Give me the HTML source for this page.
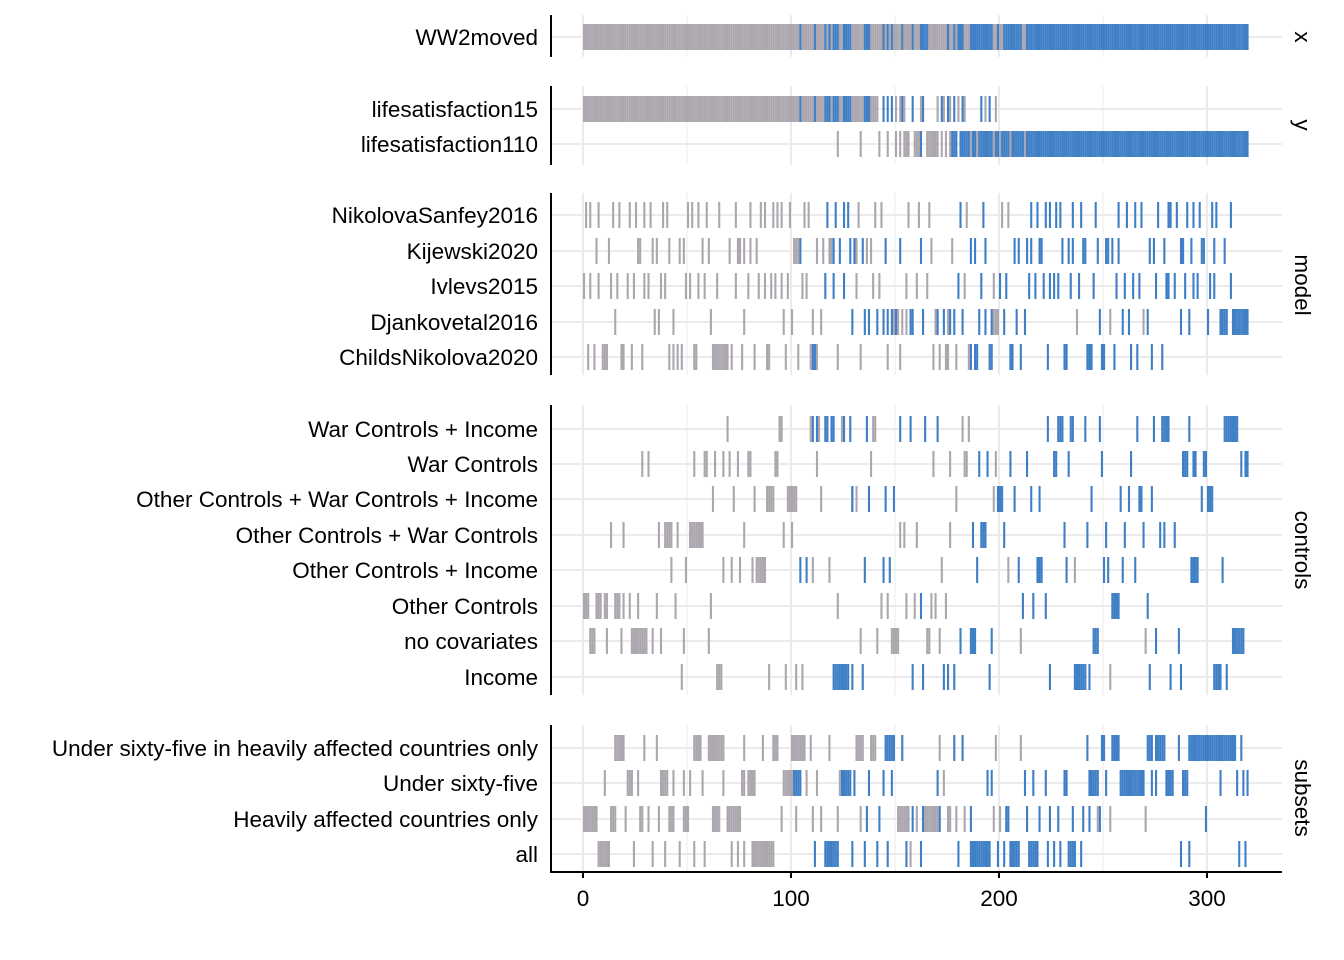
<!DOCTYPE html>
<html><head><meta charset="utf-8"><style>
html,body{margin:0;padding:0;background:#fff;}
svg{display:block;font-family:"Liberation Sans",Arial,sans-serif;}
</style></head><body>
<svg id="chart" width="1344" height="960"></svg>
<script>
const tickValues=[0,100,200,300];
const panelNames=["x","y","model","controls","subsets"];
const rowLabels=["WW2moved","lifesatisfaction15","lifesatisfaction110","NikolovaSanfey2016","Kijewski2020","Ivlevs2015","Djankovetal2016","ChildsNikolova2020","War Controls + Income","War Controls","Other Controls + War Controls + Income","Other Controls + War Controls","Other Controls + Income","Other Controls","no covariates","Income","Under sixty-five in heavily affected countries only","Under sixty-five","Heavily affected countries only","all"];
const rowPanel=[0,1,1,2,2,2,2,2,3,3,3,3,3,3,3,3,4,4,4,4];
const grayRanks=[
"1-104,106-111,113-116,118,120,124,125,130-135,139-144,146,148,150-153,155-158,160-162,167-175,177,178,180,184-186,198,199,201,202,212,213",
"1-104,106-111,113-116,120,124,125,130-135,139-142,151,153,155,163,171,174,177,181,184,194,199",
"123,134,143,147,151,153,155-157,160-162,166-171,173,175,177,187,190,198,201,206,213",
"2,4,8,15,18,23,26,30,33,39,41,51,53,56,60,66,74,81,86,88,92,94,96,100,107,109,133,141,144,157,162,167,185,202,205",
"7,13,27,28,34,36,42,47,49,58,61,71,75,76,78,81,84,102-104,113,116,119,120,132,137,139,168,178",
"1,4,8,14,17,22,25,30,32,38,40,50,52,56,59,65,74,80,85,88,91,93,96,99,106,108,132,140,143,156,161,166,184,198",
"16,35,37,44,62,78,97,101,111,115,150,152,154,156,170,176,198-200,238,254,270",
"3,6,10-12,19,20,24,29,42,44,46,48,54,55,63-70,72,77,83,89,90,98,104,110,113,123,134,147,153,169,172,175,176,180,186",
"70,95,96,110,114,125,140,141,183,186",
"29,32,54,59,60,64,68,71,75,80,81,93,94,113,139,169,177,184,185,199",
"63,73,83,89-92,99-103,115,130,132,180,198",
"14,20,37,40-43,46,52-58,78,97,101,153,155,161,177",
"43,50,68,72,76,82,84-88,111,119,173,205,237",
"1-3,7-9,11,12,16-18,20,23,27,36,45,62,123,144,147,156,160,168,170,175",
"4-6,12,19,24-31,34,38,49,61,134,142,149-152,166,167,172,211,271",
"48,65-67,90,98,103,106,254",
"16-20,30,36,54-57,61-68,78,87,92-94,101-107,110,119,132-135,139-141,172,199,211",
"11,22-24,27,38-41,44,49,52,58,68,77,78,80-83,97-101,108,113,124,174",
"1-7,14-16,21,28,29,32,37,42-44,49-51,63-66,70-76,96,103,111,115,123,134,152-157,161,164-171,176,177,180,184,198,201,248,254,271",
"8-13,25,34,40,47,54,59,72,75,78,82-92,158"];
const blueRanks=[
"105,112,117,119,121-123,126-129,136-138,145,147,149,154,159,163-166,176,179,181-183,187-197,200,203-211,214-320",
"105,112,117-119,121-123,126-129,136-138,145,147,149,154,159,164,173,176,179,183,192,196",
"163,178-180,182-186,188,189,191-197,199,200,202-205,207-212,214-320",
"118,122,126,128,182,193,216,219,223,225,228,230,236,240,247,258,262,266,269,277,282,283,286,291,294,297,303,305,312",
"105,121,124,129,131,135,146,153,163,187,189,194,208,210,214,216,220,221,231,234,236,241,242,248,252,253,255,258,273,275,280,288,289,293,298,299,304,309",
"117,121,126,181,192,201,204,215,218,222,225,227,229,235,239,246,257,261,265,268,276,281,282,285,290,294,296,302,304,312",
"130,136,138,142,145,147,149,151,158,159,164,171,174,177,179,183,191,194,197,203,209,213,249,260,263,272,288,292,301,307-310,313-320",
"111,112,187,189,190,196,197,206,207,211,224,232,233,243-245,250,251,256,264,267,274,279",
"111,113,117,118,120,121,126,129,137,153,158,165,171,224,229-231,235,236,242,249,267,275,279-282,292,309-315",
"191,195,206,214,227,228,234,250,264,289-291,294,295,299,300,317,319,320",
"130,138,146,150,200-202,208,216,220,245,259,263,268,269,274,298,301-303",
"188,192-194,203,232,243,252,261,270,278,280,285",
"105,108,136,145,148,190,210,219-221,233,251,253,260,266,293-296,308",
"163,212,217,223,255-258,272",
"182,187-189,197,246-248,276,287,313-318",
"121-128,130,135,159,164,174,176,179,196,225,237-242,244,273,283,288,304-307,310",
"146-150,154,179,183,243,250,251,255-258,272-274,276-280,287,292-314,317",
"102-105,125-129,131,138,145,149,171,195,197,213,217,223,232,233,244-248,252,259-270,274,276,281-284,289-291,307,315,318,320",
"137,143,159,164,172,187,204,205,214,220,225,229,236,241,244,249,300",
"112,117-123,130,136,142,147,156,163,181,187-196,200,203,206-210,215-219,224,227,230,234-237,240,288,292,316,319"];

const NS="http://www.w3.org/2000/svg";
const svg=document.getElementById('chart');
const rowY=[37,109,144,215,251,286,322,357,429,464,499,535,570,606,641,677,748,783,819,854];
const panels=[[15,57],[86,165],[193,375],[405,695],[725,872]];
const stripY=[37,125,285,550,798];
const FS=22.5;
const X=r=>583+r*2.08;
function el(t,a,p){const e=document.createElementNS(NS,t);for(const k in a)e.setAttribute(k,a[k]);(p||svg).appendChild(e);return e;}
function parse(s){const out=[];s.split(',').forEach(p=>{if(p.includes('-')){const [a,b]=p.split('-').map(Number);for(let i=a;i<=b;i++)out.push(i);}else out.push(Number(p));});return out;}
panels.forEach((p,pi)=>{
  for(let v=0;v<=300;v+=50){
    const g=el('line',{x1:X(v),x2:X(v),y1:p[0],y2:p[1],stroke:'#ebebeb','stroke-width':v%100===0?2:1});
    
    
  }
});
rowY.forEach(y=>{
  const g=el('line',{x1:552,x2:1282,y1:y,y2:y,stroke:'#ebebeb','stroke-width':2});
  
  
});
rowLabels.forEach((lab,i)=>{
  const y=rowY[i];
  [[grayRanks[i],'#aca7ae'],[blueRanks[i],'#3f7fc6']].forEach(([s,c])=>{
    parse(s).forEach(r=>{
      const m=el('rect',{x:X(r)-2.1,y:y-13,width:2.1,height:26,fill:c});
      
      
    });
  });
  const t=el('text',{x:538,y:y+8,'text-anchor':'end','font-size':FS,fill:'#000'});
  t.textContent=lab;
  
  
});
panels.forEach((p,pi)=>{
  const a=el('line',{x1:551,x2:551,y1:p[0],y2:p[1]+(pi===4?1:0),stroke:'#000','stroke-width':2});
  
  
  const s=el('text',{x:0,y:0,'font-size':FS,'text-anchor':'middle',transform:`translate(1295,${stripY[pi]}) rotate(90)`});
  s.textContent=panelNames[pi];
  
  
});
const xa=el('line',{x1:550,x2:1282,y1:872,y2:872,stroke:'#000','stroke-width':2});


tickValues.forEach(v=>{
  const tk=el('line',{x1:X(v),x2:X(v),y1:872,y2:878,stroke:'#000','stroke-width':2});
  
  
  const tl=el('text',{x:X(v),y:906,'text-anchor':'middle','font-size':FS,fill:'#000'});
  tl.textContent=v;
  
  
});
</script>
</body></html>
